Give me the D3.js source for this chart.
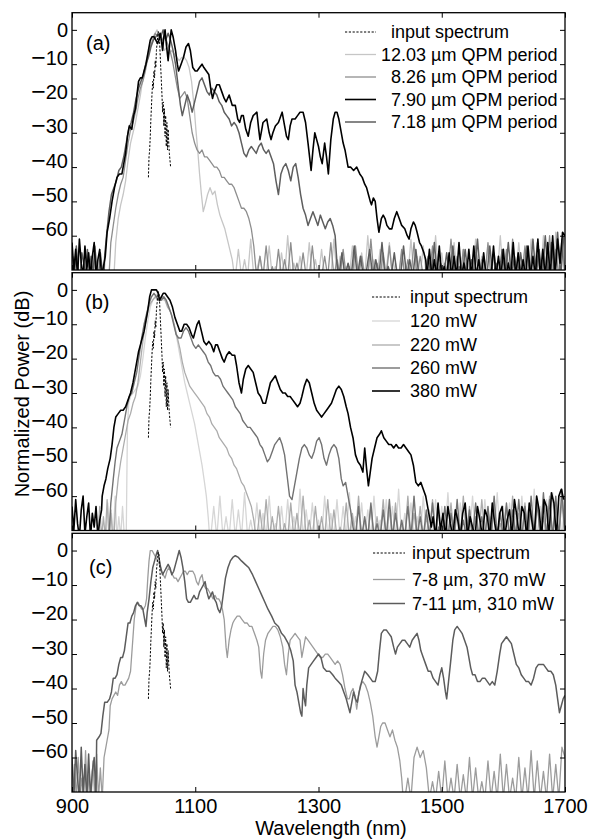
<!DOCTYPE html>
<html><head><meta charset="utf-8">
<script src="https://cdn.jsdelivr.net/npm/d3@7/dist/d3.min.js"></script>
<style>
html,body{margin:0;padding:0;background:#fff;}
text{font-family:"Liberation Sans",Arial,Helvetica,sans-serif;fill:#000;}
</style></head>
<body><svg id="chart" width="591" height="840"></svg>
<script>
// ---------- tick labels ----------
const xTicks = [900, 1100, 1300, 1500, 1700];
const yTicks = [0, -10, -20, -30, -40, -50, -60];

// ---------- shared input spectrum (nm, dB) ----------
const inputSpectrum = [[1024,-43],[1025,-37],[1026,-35],[1027,-31],[1028,-26],[1029,-22],[1030,-18],[1031,-15],[1032,-17],[1033,-12],[1034,-14],[1035,-9],[1036,-11],[1037,-6],[1038,-4],[1039,-2],[1040,-0.5],[1041,-1],[1042,-3],[1043,-7],[1044,-11],[1045,-15],[1046,-19],[1047,-24],[1048,-21],[1049,-28],[1050,-23],[1051,-31],[1052,-25],[1053,-34],[1054,-27],[1055,-35],[1056,-29],[1057,-33],[1058,-36],[1059,-38],[1060,-40]];

// ---------- panel (a) ----------
const a1203 = [[968,-72],[971,-62],[975,-55],[979,-51],[983,-48],[987,-44],[991,-38],[995,-33],[999,-30],[1003,-27],[1007,-23],[1011,-19],[1015,-14],[1019,-10],[1023,-7],[1027,-4],[1031,-2],[1035,-1],[1038,0],[1042,-2],[1046,-4],[1050,-6],[1054,-5],[1058,-7],[1062,-6],[1066,-7],[1070,-8],[1074,-9],[1078,-8],[1082,-8],[1086,-9],[1090,-11],[1094,-15],[1098,-22],[1101,-29],[1104,-35],[1107,-42],[1110,-48],[1113,-53],[1116,-51],[1120,-48],[1124,-46],[1128,-48],[1132,-47],[1136,-51],[1140,-54],[1144,-56],[1148,-58],[1152,-61],[1156,-64],[1160,-67],[1163,-71]];
const a826 = [[960,-72],[963,-62],[967,-57],[971,-52],[975,-48],[979,-45],[983,-43],[987,-38],[991,-33],[995,-29],[999,-27],[1003,-24],[1007,-20],[1011,-17],[1015,-15],[1019,-12],[1023,-8],[1027,-5],[1031,-3],[1035,-1],[1039,-2],[1043,-1],[1047,-3],[1051,-2],[1055,-4],[1059,-6],[1063,-9],[1067,-13],[1071,-17],[1075,-20],[1079,-19],[1083,-18],[1087,-20],[1091,-25],[1095,-30],[1099,-33],[1103,-35],[1107,-36],[1111,-35],[1115,-37],[1119,-37],[1123,-38],[1127,-39],[1131,-40],[1135,-40],[1139,-41],[1143,-43],[1147,-43],[1151,-44],[1155,-45],[1159,-45],[1163,-46],[1167,-48],[1171,-50],[1175,-52],[1179,-52],[1183,-53],[1187,-55],[1191,-58],[1195,-63],[1198,-69]];
const a790 = [[954,-66],[957,-59],[961,-55],[965,-50],[969,-46],[973,-43],[977,-42],[981,-42],[984,-39],[987,-36],[990,-31],[993,-28],[997,-29],[1000,-25],[1003,-23],[1006,-18],[1008,-15],[1011,-14],[1014,-14],[1017,-12],[1020,-10],[1024,-6],[1027,-3],[1030,-2],[1033,-2],[1036,-3],[1039,-4],[1041,-3],[1043,-1],[1045,-3],[1047,-6],[1049,-2],[1051,0],[1053,-4],[1056,-9],[1058,-5],[1061,0],[1064,-2],[1068,-6],[1071,-10],[1073,-12],[1077,-10],[1081,-8],[1085,-5],[1089,-4],[1092,-6],[1096,-11],[1100,-12],[1103,-12],[1107,-11],[1111,-10],[1114,-11],[1118,-12],[1122,-13],[1125,-17],[1128,-20],[1131,-18],[1135,-16],[1139,-16],[1143,-18],[1147,-20],[1150,-21],[1155,-19],[1160,-22],[1165,-22],[1169,-26],[1172,-27],[1175,-25],[1178,-25],[1182,-29],[1186,-31],[1190,-27],[1194,-25],[1200,-24],[1203,-29],[1205,-32],[1208,-29],[1210,-27],[1216,-26],[1220,-30],[1223,-32],[1226,-30],[1230,-28],[1235,-27],[1241,-24],[1245,-28],[1248,-31],[1251,-32],[1254,-28],[1257,-26],[1262,-26],[1266,-25],[1270,-24],[1275,-24],[1279,-27],[1283,-33],[1288,-41],[1291,-35],[1294,-30],[1297,-32],[1300,-34],[1303,-37],[1306,-39],[1310,-33],[1313,-37],[1316,-42],[1320,-32],[1324,-26],[1327,-24],[1330,-24],[1333,-26],[1336,-29],[1340,-33],[1343,-35],[1346,-38],[1348,-40],[1352,-40],[1357,-41],[1362,-40],[1367,-42],[1371,-43],[1375,-45],[1378,-46],[1381,-48],[1384,-50],[1386,-51],[1389,-49],[1392,-50],[1395,-55],[1398,-59],[1402,-55],[1405,-54],[1408,-55],[1411,-57],[1415,-58],[1419,-58],[1423,-55],[1427,-53],[1431,-55],[1435,-57],[1440,-58],[1444,-60],[1447,-61],[1450,-58],[1454,-56],[1457,-57],[1460,-59],[1464,-62],[1467,-63],[1471,-65],[1474,-67]];
const a718 = [[953,-66],[956,-60],[960,-53],[964,-48],[968,-46],[972,-44],[976,-41],[980,-40],[984,-37],[988,-33],[992,-29],[996,-27],[1000,-24],[1004,-20],[1008,-17],[1012,-15],[1016,-13],[1020,-10],[1024,-8],[1028,-5],[1032,-3],[1036,-2],[1040,-1],[1044,-2],[1048,0],[1052,-3],[1056,-1],[1060,-3],[1064,-6],[1068,-10],[1072,-16],[1076,-22],[1079,-25],[1083,-22],[1087,-19],[1091,-21],[1095,-24],[1099,-21],[1103,-18],[1107,-15],[1111,-14],[1115,-16],[1119,-18],[1123,-19],[1127,-17],[1131,-18],[1135,-19],[1139,-21],[1143,-22],[1147,-24],[1151,-25],[1155,-26],[1159,-28],[1163,-27],[1167,-28],[1171,-30],[1175,-33],[1179,-36],[1183,-37],[1187,-35],[1191,-34],[1195,-35],[1199,-36],[1203,-34],[1207,-33],[1211,-35],[1215,-36],[1219,-35],[1223,-37],[1227,-39],[1231,-44],[1235,-48],[1239,-42],[1243,-40],[1247,-39],[1251,-41],[1255,-44],[1259,-40],[1263,-39],[1267,-43],[1271,-48],[1275,-52],[1279,-54],[1283,-57],[1287,-55],[1291,-53],[1295,-55],[1299,-57],[1303,-54],[1307,-56],[1311,-58],[1315,-56],[1319,-55],[1323,-57],[1327,-60],[1330,-68]];
// noise floors (start nm, step nm, dB values)
const aL790 = {start:900, step:3, values:[-62,-70,-64,-72,-61,-68,-72,-63,-70,-65,-72,-66,-62,-72,-67,-64,-72,-69]};
const aL718 = {start:901, step:3, values:[-66,-72,-63,-70,-72,-65,-68,-72,-64,-71,-66,-72,-63,-69,-72,-65,-70,-72]};
const aR1203 = {start:1165, step:5, values:[
-72,-64,-72,-67,-72,-61,-72,-70,-66,-72,-72,-63,-72,-69,-72,-65,-72,-60,-72,-68,
-72,-66,-72,-72,-62,-72,-67,-72,-64,-72,-70,-72,-61,-72,-66,-72,-69,-72,-63,-72,
-72,-65,-72,-60,-72,-67,-72,-64,-72,-70,-62,-72,-68,-72,-65,-72,-72,-61,-72,-66,
-72,-63,-72,-69,-72,-60,-72,-65,-72,-67,-72,-62,-72,-72,-64,-72,-68,-72,-61,-72,
-66,-72,-63,-72,-70,-72,-60,-72,-65,-72,-67,-72,-62,-72,-64,-72,-61,-72,-66,-72,
-60,-72,-63,-72,-59,-72,-62,-72]};
const aR826 = {start:1200, step:5, values:[
-72,-66,-72,-63,-72,-69,-72,-64,-72,-67,-72,-62,-72,-68,-72,-65,-72,-72,-63,-72,
-70,-72,-66,-72,-62,-72,-67,-72,-64,-72,-69,-72,-63,-72,-66,-72,-72,-61,-72,-68,
-72,-65,-72,-63,-72,-70,-72,-64,-72,-67,-72,-62,-72,-66,-72,-69,-72,-63,-72,-65,
-72,-68,-72,-61,-72,-66,-72,-64,-72,-70,-72,-63,-72,-67,-72,-62,-72,-65,-72,-68,
-72,-64,-72,-61,-72,-66,-72,-63,-72,-69,-72,-62,-72,-65,-72,-60,-72,-64,-72,-61,-72]};
const aR718 = {start:1333, step:5, values:[
-72,-65,-72,-68,-72,-63,-72,-66,-72,-70,-64,-72,-67,-72,-62,-72,-69,-72,-65,-72,
-72,-63,-72,-67,-72,-64,-72,-70,-72,-66,-72,-62,-72,-68,-72,-65,-72,-63,-72,-69,
-72,-64,-72,-67,-72,-61,-72,-66,-72,-63,-72,-68,-72,-64,-72,-62,-72,-66,-72,-65,
-72,-63,-72,-61,-72,-64,-72,-60,-72,-62,-72,-59,-72,-60]};
const aR790 = {start:1476, step:4, values:[
-72,-64,-72,-67,-72,-63,-72,-69,-72,-65,-72,-66,-72,-62,-72,-68,-72,-64,-72,-63,
-72,-67,-72,-65,-72,-70,-72,-63,-72,-66,-72,-64,-72,-68,-72,-62,-72,-65,-72,-67,
-72,-63,-72,-66,-72,-61,-72,-64,-72,-62,-72,-60,-72,-61,-68,-59,-60]};

// ---------- panel (b) ----------
const b120 = [[988,-72],[989,-55],[990,-40],[992,-33],[995,-31],[999,-30],[1003,-29],[1007,-28],[1011,-25],[1015,-20],[1019,-14],[1023,-9],[1027,-5],[1031,-3],[1035,-2],[1039,-1],[1043,-2],[1047,-3],[1051,-3],[1055,-4],[1059,-6],[1063,-8],[1067,-11],[1071,-15],[1075,-19],[1079,-23],[1083,-27],[1087,-30],[1091,-33],[1095,-36],[1099,-39],[1103,-43],[1107,-47],[1111,-51],[1115,-56],[1118,-60],[1121,-66],[1123,-71]];
const b220 = [[968,-72],[971,-62],[975,-55],[979,-50],[983,-46],[987,-42],[991,-38],[995,-36],[999,-33],[1003,-31],[1007,-27],[1011,-21],[1015,-15],[1019,-10],[1023,-6],[1027,-4],[1031,-3],[1035,-2],[1039,-3],[1043,-3],[1047,-2],[1051,-3],[1055,-5],[1059,-6],[1063,-8],[1067,-11],[1071,-14],[1075,-17],[1079,-21],[1083,-24],[1087,-26],[1091,-28],[1095,-29],[1099,-30],[1103,-31],[1107,-32],[1111,-33],[1115,-34],[1119,-36],[1123,-37],[1127,-39],[1131,-40],[1135,-41],[1139,-43],[1143,-44],[1147,-45],[1151,-46],[1155,-48],[1159,-49],[1163,-51],[1167,-52],[1171,-54],[1175,-56],[1179,-57],[1183,-59],[1187,-61],[1191,-63],[1195,-67],[1198,-71]];
const b260 = [[960,-72],[963,-62],[967,-55],[970,-50],[973,-46],[977,-44],[981,-42],[985,-38],[989,-34],[993,-31],[997,-30],[1001,-27],[1005,-24],[1009,-19],[1013,-14],[1017,-10],[1021,-7],[1025,-4],[1029,-2],[1033,-1],[1037,-2],[1041,-3],[1045,-3],[1049,-2],[1053,-3],[1057,-5],[1061,-7],[1065,-10],[1069,-13],[1073,-14],[1077,-14],[1081,-12],[1085,-11],[1089,-12],[1093,-14],[1097,-16],[1101,-17],[1105,-16],[1109,-17],[1113,-18],[1117,-19],[1121,-21],[1125,-22],[1129,-24],[1133,-25],[1137,-25],[1141,-26],[1145,-28],[1149,-29],[1153,-30],[1157,-31],[1161,-32],[1165,-34],[1169,-35],[1173,-36],[1177,-38],[1181,-39],[1185,-40],[1189,-40],[1193,-41],[1197,-42],[1201,-43],[1205,-45],[1209,-46],[1213,-48],[1217,-50],[1221,-49],[1225,-47],[1229,-45],[1233,-44],[1237,-43],[1241,-45],[1245,-48],[1249,-54],[1253,-60],[1257,-61],[1261,-57],[1265,-53],[1269,-49],[1273,-46],[1277,-45],[1281,-46],[1285,-48],[1289,-49],[1293,-47],[1297,-44],[1301,-43],[1305,-45],[1309,-49],[1313,-51],[1317,-48],[1321,-46],[1325,-45],[1329,-46],[1333,-49],[1337,-55],[1340,-57],[1344,-56],[1348,-60],[1352,-64],[1356,-69]];
const b380 = [[949,-60],[952,-57],[955,-55],[958,-52],[962,-49],[965,-45],[968,-40],[971,-37],[975,-36],[979,-35],[983,-35],[987,-34],[991,-32],[995,-30],[999,-27],[1002,-24],[1005,-21],[1008,-18],[1011,-16],[1014,-14],[1017,-12],[1020,-9],[1023,-6],[1026,-2],[1029,0],[1033,0],[1037,0],[1040,-1],[1042,-3],[1045,-2],[1048,-1],[1051,-1],[1055,-2],[1059,-3],[1063,-5],[1067,-8],[1071,-10],[1075,-12],[1078,-12],[1082,-10],[1086,-10],[1090,-11],[1094,-13],[1097,-14],[1100,-12],[1103,-10],[1106,-9],[1110,-12],[1114,-15],[1118,-16],[1122,-15],[1126,-16],[1130,-18],[1133,-16],[1136,-16],[1140,-18],[1144,-20],[1147,-21],[1151,-19],[1155,-18],[1160,-19],[1164,-19],[1167,-22],[1171,-27],[1175,-30],[1178,-26],[1182,-23],[1186,-22],[1190,-23],[1194,-24],[1198,-27],[1202,-30],[1206,-31],[1210,-33],[1214,-33],[1218,-30],[1222,-27],[1226,-26],[1230,-25],[1234,-27],[1238,-29],[1242,-30],[1246,-30],[1250,-31],[1254,-31],[1258,-32],[1262,-33],[1266,-34],[1270,-33],[1273,-31],[1277,-28],[1281,-26],[1285,-27],[1289,-30],[1293,-33],[1297,-35],[1301,-36],[1305,-37],[1309,-36],[1313,-35],[1317,-34],[1321,-33],[1325,-31],[1329,-29],[1333,-28],[1337,-29],[1341,-31],[1345,-34],[1348,-36],[1352,-40],[1356,-43],[1360,-48],[1364,-50],[1368,-51],[1372,-53],[1375,-46],[1378,-52],[1381,-57],[1384,-53],[1387,-49],[1391,-46],[1395,-43],[1399,-42],[1402,-41],[1406,-43],[1410,-44],[1414,-45],[1418,-45],[1422,-46],[1426,-45],[1430,-46],[1434,-46],[1438,-45],[1442,-46],[1446,-47],[1450,-48],[1454,-51],[1458,-56],[1462,-57],[1466,-56],[1470,-58],[1474,-60],[1477,-63],[1480,-66],[1483,-69]];
const bL380 = {start:900, step:3, values:[-63,-70,-61,-68,-72,-64,-60,-71,-66,-62,-72,-65,-69,-63,-72,-67,-64]};
const bL220 = {start:942, step:3, values:[-72,-63,-72,-66,-72,-61,-72,-64,-72]};
const bL120 = {start:955, step:3, values:[-72,-62,-72,-65,-72,-60,-72,-66,-72,-63,-72]};
const bR120 = {start:1125, step:5, values:[
-72,-63,-72,-60,-72,-66,-72,-61,-72,-64,-72,-59,-72,-67,-72,-62,-72,-65,-72,-60,
-72,-68,-72,-63,-72,-61,-72,-66,-72,-58,-72,-64,-72,-62,-72,-67,-72,-60,-72,-65,
-72,-61,-72,-63,-72,-59,-72,-66,-72,-62,-72,-64,-72,-60,-72,-67,-72,-61,-72,-63,
-72,-58,-72,-65,-72,-62,-72,-66,-72,-60,-72,-64,-72,-61,-72,-63,-72,-59,-72,-67,
-72,-62,-72,-65,-72,-60,-72,-64,-72,-61,-72,-66,-72,-59,-72,-63,-72,-62,-72,-65,
-72,-60,-72,-64,-72,-58,-72,-63,-72,-61,-72,-59,-72,-62,-72,-60]};
const bR220 = {start:1200, step:5, values:[
-72,-64,-72,-61,-72,-66,-72,-63,-72,-68,-72,-62,-72,-65,-72,-60,-72,-67,-72,-63,
-72,-66,-72,-61,-72,-64,-72,-69,-72,-62,-72,-65,-72,-60,-72,-67,-72,-63,-72,-66,
-72,-61,-72,-64,-72,-62,-72,-68,-72,-60,-72,-65,-72,-63,-72,-66,-72,-61,-72,-64,
-72,-67,-72,-62,-72,-65,-72,-60,-72,-63,-72,-66,-72,-61,-72,-64,-72,-62,-72,-68,
-72,-63,-72,-60,-72,-65,-72,-62,-72,-64,-72,-61,-72,-66,-72,-60,-72,-63,-72,-61,-72]};
const bR260 = {start:1360, step:5, values:[
-72,-63,-72,-66,-72,-62,-72,-68,-72,-64,-72,-61,-72,-65,-72,-67,-72,-63,-72,-60,
-72,-66,-72,-64,-72,-62,-72,-69,-72,-63,-72,-65,-72,-61,-72,-67,-72,-64,-72,-62,
-72,-66,-72,-63,-72,-60,-72,-65,-72,-62,-72,-64,-72,-61,-72,-63,-72,-60,-72,-62,
-72,-59,-72,-61,-72,-60,-72,-58,-72]};
const bR380 = {start:1486, step:4, values:[
-66,-72,-62,-70,-65,-72,-63,-68,-72,-64,-67,-72,-65,-62,-72,-66,-69,-72,-63,-67,
-72,-64,-66,-72,-62,-68,-72,-65,-63,-72,-67,-64,-72,-61,-66,-72,-63,-65,-72,-62,
-67,-72,-60,-64,-72,-61,-63,-72,-59,-62,-72,-60,-58,-61]};

// ---------- panel (c) ----------
const c78 = [[954,-58],[957,-55],[960,-52],[962,-45],[965,-43],[968,-42],[971,-41],[974,-42],[977,-39],[980,-38],[983,-39],[986,-39],[989,-38],[992,-37],[995,-35],[997,-30],[999,-25],[1001,-20],[1004,-16],[1007,-15],[1010,-16],[1013,-17],[1016,-17],[1019,-16],[1021,-14],[1023,-8],[1025,-3],[1027,0],[1030,0],[1033,-1],[1036,-2],[1039,-3],[1042,-4],[1045,-6],[1048,-7],[1051,-8],[1054,-6],[1057,-5],[1060,-6],[1063,-7],[1066,-8],[1069,-8],[1072,-9],[1075,-8],[1078,-7],[1081,-6],[1084,-6],[1087,-7],[1090,-6],[1093,-6],[1096,-6],[1099,-7],[1102,-9],[1105,-10],[1108,-8],[1111,-7],[1114,-10],[1117,-11],[1120,-11],[1123,-12],[1126,-13],[1129,-14],[1132,-13],[1135,-14],[1138,-14],[1141,-15],[1144,-17],[1147,-20],[1150,-28],[1152,-31],[1155,-26],[1158,-23],[1161,-21],[1164,-20],[1168,-19],[1172,-19],[1176,-20],[1180,-21],[1184,-21],[1188,-22],[1192,-22],[1196,-24],[1200,-26],[1203,-28],[1206,-35],[1208,-37],[1211,-30],[1214,-26],[1218,-24],[1222,-23],[1226,-22],[1230,-22],[1234,-23],[1238,-25],[1242,-28],[1245,-33],[1248,-36],[1251,-30],[1254,-26],[1258,-25],[1262,-24],[1266,-25],[1270,-26],[1273,-31],[1276,-28],[1279,-25],[1283,-26],[1287,-27],[1291,-28],[1295,-29],[1299,-30],[1303,-31],[1307,-31],[1311,-30],[1315,-30],[1319,-31],[1323,-32],[1327,-33],[1331,-32],[1335,-33],[1339,-36],[1343,-40],[1347,-43],[1350,-43],[1353,-41],[1356,-40],[1359,-42],[1362,-46],[1365,-42],[1368,-39],[1372,-38],[1376,-39],[1380,-41],[1384,-44],[1388,-48],[1392,-54],[1395,-57],[1398,-54],[1401,-51],[1404,-50],[1408,-50],[1412,-52],[1416,-54],[1420,-52],[1424,-55],[1428,-57],[1432,-61],[1435,-66],[1437,-71]];
const c711 = [[940,-55],[944,-54],[947,-53],[950,-48],[953,-44],[957,-44],[961,-43],[964,-41],[967,-37],[970,-37],[973,-36],[976,-33],[979,-31],[982,-31],[985,-29],[988,-25],[991,-21],[994,-21],[997,-19],[1000,-18],[1003,-16],[1006,-15],[1009,-16],[1012,-16],[1015,-17],[1018,-20],[1020,-22],[1022,-18],[1025,-14],[1028,-9],[1031,-5],[1034,-3],[1037,-1],[1039,0],[1041,-2],[1044,-5],[1047,-7],[1050,-6],[1053,-5],[1056,-4],[1059,-5],[1062,-7],[1065,-6],[1068,-4],[1071,-2],[1074,0],[1077,-2],[1080,-5],[1083,-9],[1086,-14],[1089,-15],[1092,-15],[1095,-14],[1098,-13],[1101,-14],[1104,-14],[1107,-12],[1110,-11],[1113,-10],[1116,-9],[1119,-12],[1122,-14],[1125,-13],[1128,-12],[1131,-14],[1134,-15],[1137,-17],[1140,-18],[1143,-16],[1146,-12],[1149,-8],[1153,-5],[1157,-3],[1161,-2],[1165,-1.5],[1170,-2],[1175,-3],[1181,-4],[1187,-5],[1193,-7],[1198,-9],[1203,-11],[1208,-13],[1213,-15],[1218,-17],[1224,-19],[1229,-21],[1235,-22],[1240,-24],[1245,-25],[1251,-27],[1255,-29],[1259,-32],[1262,-39],[1265,-41],[1268,-44],[1271,-47],[1273,-48],[1275,-40],[1277,-43],[1279,-45],[1281,-39],[1284,-34],[1288,-33],[1292,-32],[1296,-31],[1300,-30],[1304,-31],[1308,-34],[1313,-35],[1318,-35],[1323,-36],[1327,-37],[1332,-38],[1337,-39],[1341,-41],[1345,-43],[1348,-45],[1351,-47],[1354,-44],[1357,-41],[1360,-43],[1363,-44],[1366,-41],[1370,-38],[1375,-35],[1380,-36],[1384,-37],[1388,-38],[1392,-38],[1396,-35],[1399,-29],[1402,-24],[1406,-23],[1410,-23],[1414,-24],[1418,-25],[1422,-28],[1425,-30],[1428,-28],[1432,-27],[1436,-26],[1440,-26],[1444,-27],[1448,-28],[1452,-26],[1456,-25],[1460,-24],[1463,-26],[1466,-29],[1470,-31],[1474,-33],[1478,-35],[1482,-35],[1486,-37],[1490,-38],[1494,-39],[1497,-36],[1500,-34],[1503,-37],[1506,-41],[1508,-43],[1511,-38],[1514,-33],[1518,-26],[1521,-23],[1525,-22],[1529,-23],[1533,-24],[1537,-26],[1541,-28],[1544,-31],[1547,-34],[1550,-36],[1554,-36],[1558,-38],[1562,-38],[1566,-37],[1570,-37],[1574,-38],[1578,-39],[1582,-38],[1586,-39],[1590,-35],[1594,-30],[1597,-27],[1601,-26],[1605,-25],[1609,-26],[1613,-27],[1617,-30],[1621,-33],[1625,-34],[1629,-36],[1633,-37],[1637,-38],[1641,-38],[1645,-39],[1649,-37],[1653,-34],[1657,-33],[1661,-33],[1665,-33],[1669,-34],[1673,-35],[1677,-35],[1681,-36],[1685,-39],[1688,-43],[1691,-47],[1694,-45],[1697,-43],[1700,-42]];
const cL711 = {start:900, step:3, values:[-60,-72,-58,-66,-72,-57,-70,-62,-72,-59,-72,-64,-60,-72]};
const cL78 = {start:901, step:3, values:[-72,-62,-72,-60,-72,-66,-72,-58,-72,-64,-72,-61,-72,-59,-72,-63,-72,-60]};
const cR78 = {start:1440, step:5, values:[
-72,-66,-72,-60,-57,-60,-58,-63,-72,-67,-72,-64,-72,-61,-72,-66,-72,-62,-72,-65,
-72,-60,-72,-63,-72,-67,-72,-61,-72,-64,-72,-59,-72,-62,-72,-66,-72,-60,-72,-63,
-72,-58,-72,-61,-72,-64,-72,-59,-72,-62,-72,-57,-60]};

// ---------- labels ----------
const FS = "\u2007"; // figure space (legend text alignment as in the original)
const legendA = [FS+"input spectrum", "12.03 \u00b5m QPM period", FS+"8.26 \u00b5m QPM period", FS+"7.90 \u00b5m QPM period", FS+"7.18 \u00b5m QPM period"];
const legendB = ["input spectrum", "120 mW", "220 mW", "260 mW", "380 mW"];
const legendC = ["input spectrum", "7-8 \u00b5m, 370 mW", "7-11 \u00b5m, 310 mW"];

// ---------- helpers ----------
function expand(n){ return n ? n.values.map((v,i)=>[n.start + i*n.step, v]) : []; }
function join(left, curve, right){ return [...expand(left), ...curve, ...expand(right)]; }

const inputStyle = {color:"#000", width:1, dash:"2.2,1.6"};

const panels = [
  { top:12.7, bottom:270, tag:"(a)", tagX:86, tagY:43, legendLabels:legendA,
    legend:{x1:345, x2:376, tx:381, rows:[32,54.5,77,99.5,122]},
    series:[
      {label:legendA[1], color:"#c6c6c6", width:1.3, data:join(null, a1203, aR1203)},
      {label:legendA[2], color:"#8e8e8e", width:1.3, data:join(null, a826, aR826)},
      {label:legendA[4], color:"#5e5e5e", width:1.5, data:join(aL718, a718, aR718)},
      {label:legendA[3], color:"#000000", width:1.6, data:join(aL790, a790, aR790)},
    ],
    order:[0,1,3,2] },
  { top:272.7, bottom:530.5, tag:"(b)", tagX:85, tagY:301.7, legendLabels:legendB,
    legend:{x1:372, x2:400, tx:410, rows:[297,321,345,368,391]},
    series:[
      {label:legendB[1], color:"#d6d6d6", width:1.3, data:join(bL120, b120, bR120)},
      {label:legendB[2], color:"#acacac", width:1.3, data:join(bL220, b220, bR220)},
      {label:legendB[3], color:"#727272", width:1.4, data:join(null, b260, bR260)},
      {label:legendB[4], color:"#000000", width:1.6, data:join(bL380, b380, bR380)},
    ],
    order:[0,1,2,3] },
  { top:533.3, bottom:792, tag:"(c)", tagX:89, tagY:567, legendLabels:legendC,
    legend:{x1:373, x2:405, tx:412, rows:[553,579.5,603.5]},
    series:[
      {label:legendC[1], color:"#9c9c9c", width:1.3, data:join(cL78, c78, cR78)},
      {label:legendC[2], color:"#5c5c5c", width:1.5, data:join(cL711, c711, null)},
    ],
    order:[0,1], xlabels:true }
];

const svg = d3.select("#chart");
svg.append("rect").attr("width",591).attr("height",840).attr("fill","#fff");
const x = d3.scaleLinear().domain([900,1700]).range([72,565]);
const TICKFS = 20;

panels.forEach((p, pi) => {
  const y = d3.scaleLinear().domain([-70,5]).range([p.bottom, p.top]);
  const g = svg.append("g");
  const cid = "clip" + pi;
  svg.append("clipPath").attr("id", cid).append("rect")
    .attr("x", 72).attr("y", p.top).attr("width", 565-72).attr("height", p.bottom - p.top);
  const line = d3.line().x(d => x(d[0])).y(d => y(d[1]));
  const lines = g.append("g").attr("clip-path", `url(#${cid})`);
  p.series.forEach(s => {
    lines.append("path").datum(s.data).attr("d", line)
      .attr("fill","none").attr("stroke", s.color).attr("stroke-width", s.width)
      .attr("stroke-linejoin","round");
  });
  lines.append("path").datum(inputSpectrum).attr("d", line)
    .attr("fill","none").attr("stroke", inputStyle.color).attr("stroke-width", inputStyle.width)
    .attr("stroke-dasharray", inputStyle.dash);

  // axes (inward ticks on all sides)
  const axL = d3.axisLeft(y).tickValues(yTicks).tickSize(-5).tickPadding(4).tickFormat(d => d);
  const axR = d3.axisRight(y).tickValues(yTicks).tickSize(-5).tickFormat("");
  const axT = d3.axisTop(x).tickValues(xTicks).tickSize(-5).tickFormat("");
  const axB = d3.axisBottom(x).tickValues(xTicks).tickSize(-5).tickPadding(6.8)
    .tickFormat(p.xlabels ? d3.format("d") : "");
  const styleAxis = sel => { sel.select(".domain").remove(); sel.selectAll("line").attr("stroke","#000").attr("stroke-width",1);
    sel.selectAll("text").attr("font-size", TICKFS).attr("font-family", "'Liberation Sans', Arial, sans-serif").attr("fill","#000"); };
  const gl = g.append("g").attr("transform", `translate(72,0)`).call(axL).call(styleAxis);
  // y labels: minus sign drawn slightly larger, as in the original
  gl.selectAll(".tick text").text(null).each(function(d){
    const t = d3.select(this);
    if (d < 0) t.append("tspan").attr("font-size", 25).attr("dy","0.04em").text("\u2212");
    t.append("tspan").attr("dy", d < 0 ? "-0.04em" : null).text(Math.abs(d));
  });
  g.append("g").attr("transform", `translate(565,0)`).call(axR).call(styleAxis);
  g.append("g").attr("transform", `translate(0,${p.top})`).call(axT).call(styleAxis);
  g.append("g").attr("transform", `translate(0,${p.bottom})`).call(axB).call(styleAxis);
  g.append("rect").attr("x",72).attr("y",p.top).attr("width",565-72).attr("height",p.bottom-p.top)
    .attr("fill","none").attr("stroke","#000").attr("stroke-width",1.3);

  // panel tag
  g.append("text").attr("x", p.tagX).attr("y", p.tagY).attr("dy","0.35em")
    .attr("font-size", 20).text(p.tag);

  // legend
  const L = p.legend;
  const entries = [{label:p.legendLabels[0], style:inputStyle}].concat(
    p.order.map(i => ({label:p.series[i].label, style:{color:p.series[i].color, width:p.series[i].width}})));
  entries.forEach((e, i) => {
    const yy = L.rows[i];
    g.append("line").attr("x1", L.x1).attr("x2", L.x2).attr("y1", yy).attr("y2", yy)
      .attr("stroke", e.style.color).attr("stroke-width", e.style.width)
      .attr("stroke-dasharray", e.style.dash || null);
    g.append("text").attr("x", L.tx).attr("y", yy).attr("dy","0.35em")
      .attr("font-size", 18).style("white-space","pre").text(e.label);
  });
});

// axis titles
svg.append("text").attr("transform","translate(29,394) rotate(-90)")
  .attr("text-anchor","middle").attr("font-size",20).text("Normalized Power (dB)");
svg.append("text").attr("x",331).attr("y",835)
  .attr("text-anchor","middle").attr("font-size",20).text("Wavelength (nm)");
</script></body></html>
